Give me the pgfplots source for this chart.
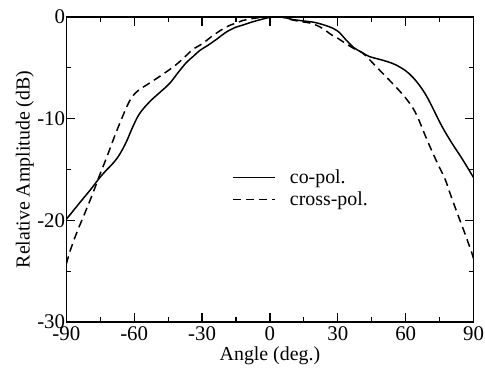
\documentclass[border=0pt]{standalone}
\usepackage{pgfplots}
\pgfplotsset{compat=1.18}
\usepackage{fontspec}
\setmainfont{Liberation Serif}
\begin{document}
\begin{tikzpicture}
\begin{axis}[
  scale only axis,
  width=408.5bp, height=306bp,
  xmin=-90, xmax=90, ymin=-30, ymax=0,
  xtick={-90,-60,-30,0,30,60,90},
  ytick={-30,-20,-10,0},
  minor x tick num=1,
  minor y tick num=1,
  tick align=inside,
  major tick length=9bp,
  minor tick length=5bp,
  axis line style={line width=1.6pt},
  every tick/.style={line width=1.2pt, black},
  /pgf/number format/assume math mode=true,
  tick label style={font=\fontsize{21}{24}\selectfont, inner sep=1pt},
  xticklabel style={yshift=-3bp},
  xlabel={Angle (deg.)},
  ylabel={Relative Amplitude (dB)},
  label style={font=\fontsize{20}{24}\selectfont},
  xlabel style={yshift=-2bp},
  ylabel style={yshift=-1bp},
  legend style={draw=none, fill=none, at={(0.408,0.438)}, anchor=west,
    font=\fontsize{20}{24}\selectfont, inner sep=0pt, row sep=3bp,
    /tikz/every odd column/.append style={column sep=12bp}},
  legend cell align=left,
  legend image code/.code={\draw[#1] (0bp,0bp) -- (42bp,0bp);},
  clip=true,
]
\addplot[black, line width=1.5pt, smooth, tension=0.6] coordinates {
(-90,-19.9) (-86,-18.8) (-82.7,-17.9) (-79,-16.9) (-75.2,-15.8) (-72,-15.0)
(-69,-14.3) (-66.4,-13.5) (-63.5,-12.3) (-60.6,-10.8) (-57.6,-9.5) (-53.2,-8.35)
(-48.8,-7.45) (-44.4,-6.55) (-40.7,-5.5) (-37,-4.5) (-34,-3.9) (-31,-3.3)
(-26.8,-2.7) (-23,-2.1) (-19.4,-1.5) (-15,-1.0) (-12,-0.8) (-8,-0.5)
(-4.8,-0.3) (0,-0.05) (5,0) (10,-0.25) (15,-0.4) (20,-0.55) (26,-0.95)
(30,-1.4) (33.4,-2.2) (37,-3.0) (40.7,-3.5) (44,-3.9) (48.1,-4.15)
(52,-4.4) (56,-4.75) (60,-5.3) (63,-5.9) (66,-6.7) (69,-7.7) (71.6,-8.8)
(76,-10.75) (80.4,-12.4) (84.8,-13.9) (90,-15.8)
};
\addlegendentry{co-pol.}
\addplot[black, line width=1.5pt, dash pattern=on 8bp off 5bp, smooth, tension=0.6] coordinates {
(-90,-24.3) (-88,-22.8) (-85,-21.0) (-82,-19.4) (-78.2,-17.3) (-75,-15.4)
(-72.3,-13.9) (-68.6,-11.7) (-65.7,-10.1) (-62.8,-8.6) (-60.5,-7.75) (-58,-7.2)
(-53.2,-6.5) (-47.4,-5.65) (-41.5,-4.7) (-37,-3.8) (-34.1,-3.2)
(-29.7,-2.6) (-25,-1.8) (-19.4,-1.0) (-15,-0.6) (-12,-0.35) (-6,-0.1)
(0,0) (5,0) (10,-0.3) (15,-0.5) (18.7,-0.65) (23,-1.1) (27.5,-1.8)
(30,-2.1) (33.4,-2.6) (37,-3.1) (40.7,-3.5) (44,-4.2) (48.1,-5.15)
(54,-6.5) (59.9,-7.95) (64.3,-9.4) (68.7,-11.7) (71.6,-13.2) (74.5,-14.6)
(77.5,-16.0) (80,-17.6) (83.3,-19.6) (86,-21.2) (89.2,-23.2) (90,-23.8)
};
\addlegendentry{cross-pol.}
\end{axis}
\path ([shift={(-66.5bp,-44bp)}]current axis.south west) rectangle ([shift={(10bp,17bp)}]current axis.north east);
\end{tikzpicture}
\end{document}
